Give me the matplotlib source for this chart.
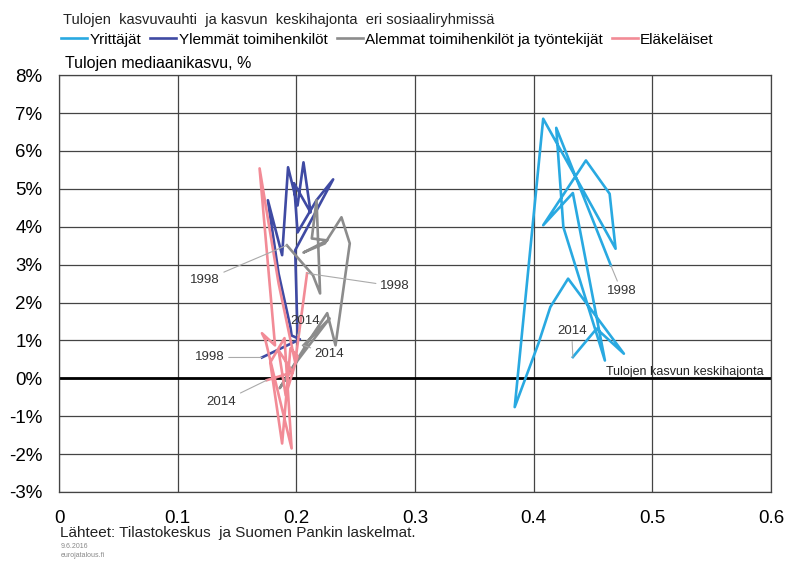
import numpy as np
import matplotlib.pyplot as plt

plt.rcParams['font.family'] = ['Liberation Sans', 'DejaVu Sans']

# --- Datos: (keskihajonta, mediaanikasvu %) vuosille 1998-2014 ---
vuodet = list(range(1998, 2015))

yrittajat_x = [0.465, 0.419, 0.425, 0.460, 0.433, 0.408, 0.444, 0.464, 0.469,
               0.408, 0.384, 0.404, 0.414, 0.429, 0.476, 0.453, 0.433]
yrittajat_y = [2.98, 6.61, 3.99, 0.47, 4.89, 4.04, 5.75, 4.87, 3.42,
               6.85, -0.76, 0.92, 1.88, 2.63, 0.65, 1.31, 0.56]

ylemmat_x = [0.171, 0.203, 0.196, 0.195, 0.185, 0.176, 0.188, 0.193, 0.201,
             0.206, 0.212, 0.198, 0.201, 0.217, 0.231, 0.199, 0.201]
ylemmat_y = [0.55, 1.03, 1.13, 1.35, 2.77, 4.70, 3.25, 5.57, 4.56,
             5.70, 4.38, 5.15, 3.85, 4.70, 5.25, 3.38, 1.13]

alemmat_x = [0.192, 0.214, 0.220, 0.217, 0.213, 0.226, 0.206, 0.224, 0.238,
             0.245, 0.233, 0.226, 0.209, 0.186, 0.201, 0.228, 0.206]
alemmat_y = [3.51, 2.72, 2.24, 4.70, 3.69, 3.64, 3.32, 3.56, 4.25,
             3.56, 0.87, 1.72, 0.92, -0.26, 0.47, 1.58, 0.87]

elakelaiset_x = [0.209, 0.199, 0.185, 0.169, 0.182, 0.171, 0.174, 0.196, 0.190,
                 0.178, 0.188, 0.195, 0.201, 0.191, 0.185, 0.197, 0.175]
elakelaiset_y = [2.77, 0.42, 2.51, 5.54, 0.87, 1.19, 1.00, -1.85, 1.06,
                 0.42, -1.72, 0.79, 0.58, -0.45, 0.74, 0.16, -0.05]

sarjat = ['Yrittäjät', 'Ylemmät toimihenkilöt',
          'Alemmat toimihenkilöt ja työntekijät', 'Eläkeläiset']
varit = ['#29a9e1', '#3f4aa3', '#8c8c8c', '#f28b96']
xs = [yrittajat_x, ylemmat_x, alemmat_x, elakelaiset_x]
ys = [yrittajat_y, ylemmat_y, alemmat_y, elakelaiset_y]

# vuosietikettien paikat (sarja, vuosi-indeksi, tekstin paikka)
etiketit = [
    (0, 0, (0.474, 2.30)), (0, -1, (0.432, 1.24)),
    (1, 0, (0.127, 0.55)), (1, -1, (0.207, 1.50)),
    (2, 0, (0.123, 2.59)), (2, -1, (0.228, 0.63)),
    (3, 0, (0.283, 2.43)), (3, -1, (0.137, -0.63)),
]

fig = plt.figure(figsize=(7.85, 5.61), dpi=100)
ax = fig.add_axes([0.0752, 0.123, 0.907, 0.743])

for x, y, nimi, vari in zip(xs, ys, sarjat, varit):
    ax.plot(x, y, color=vari, lw=1.9, label=nimi, zorder=3)

for s, i, pos in etiketit:
    ax.annotate(str(vuodet[i]), xy=(xs[s][i], ys[s][i]), xytext=pos,
                ha='center', va='center', fontsize=9.5, color='#333333',
                arrowprops=dict(arrowstyle='-', color='#aaaaaa', lw=0.8,
                                shrinkA=1, shrinkB=0), zorder=4)

ax.axhline(0, color='black', lw=2, zorder=2)
ax.text(0.461, 0.17, 'Tulojen kasvun keskihajonta', fontsize=9,
        ha='left', va='center', color='#222222', zorder=5)

ax.set_xlim(0, 0.6)
ax.set_ylim(-3, 8)
ax.set_xticks(np.arange(0, 0.61, 0.1))
ax.set_xticklabels(['0', '0.1', '0.2', '0.3', '0.4', '0.5', '0.6'])
ax.set_yticks(range(-3, 9))
ax.set_yticklabels([f'{v}%' for v in range(-3, 9)])
ax.tick_params(length=0, labelsize=13.5)
ax.tick_params(axis='x', pad=13)
ax.tick_params(axis='y', pad=12)
ax.grid(True, color='#444444', lw=0.9)
ax.set_axisbelow(True)
for sp in ax.spines.values():
    sp.set_color('#444444')
    sp.set_linewidth(0.9)

fig.text(0.083, 0.887, 'Tulojen mediaanikasvu, %', fontsize=11.5, ha='left', va='center')
fig.text(0.08, 0.965, 'Tulojen  kasvuvauhti  ja kasvun  keskihajonta  eri sosiaaliryhmissä',
         fontsize=10.5, ha='left', va='center', color='#222222')
fig.legend(loc='center left', bbox_to_anchor=(0.078, 0.929), ncol=4, frameon=False,
           fontsize=11, handlelength=1.7, handletextpad=0.15, columnspacing=0.6,
           borderpad=0, borderaxespad=0)

fig.text(0.077, 0.05, 'Lähteet: Tilastokeskus  ja Suomen Pankin laskelmat.', fontsize=11,
         ha='left', va='center', color='#222222')
fig.text(0.077, 0.025, '9.6.2016', fontsize=5, ha='left', va='center', color='#888888')
fig.text(0.077, 0.009, 'eurojatalous.fi', fontsize=5, ha='left', va='center', color='#888888')

fig.savefig('out.png', dpi=100)
